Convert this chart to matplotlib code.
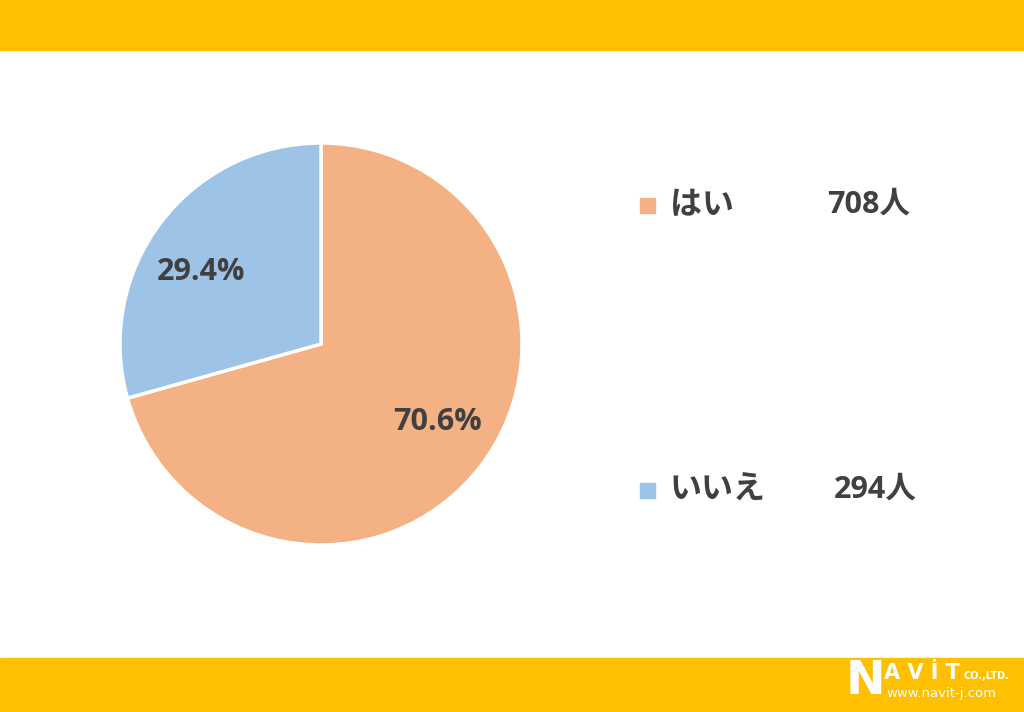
import matplotlib
matplotlib.use("Agg")
import matplotlib.pyplot as plt
from matplotlib.patches import Rectangle

plt.rcParams['font.family'] = ['Open Sans', 'Noto Sans CJK JP', 'DejaVu Sans']

# data
labels      = ["はい", "いいえ"]
counts      = [708, 294]
pct_labels  = ["70.6%", "29.4%"]
colors      = ["#F4B183", "#9DC3E6"]

W, H = 1024, 712
fig = plt.figure(figsize=(W / 100, H / 100), dpi=100)
fig.patch.set_facecolor("white")

# yellow bands top / bottom
yellow = "#FFC000"
fig.add_artist(Rectangle((0, 1 - 50 / H), 1, 50 / H, transform=fig.transFigure, color=yellow, zorder=0))
fig.add_artist(Rectangle((0, 0), 1, 54 / H, transform=fig.transFigure, color=yellow, zorder=0))

# pie
cx, cy, r = 321, 344, 201
ax = fig.add_axes([(cx - r) / W, (H - cy - r) / H, 2 * r / W, 2 * r / H])
wedges, _ = ax.pie(
    counts
    , colors        = colors
    , startangle    = 90
    , counterclock  = False
    , radius        = 1
    , wedgeprops    = dict(edgecolor="white", linewidth=2.5)
)
ax.set_xlim(-1, 1)
ax.set_ylim(-1, 1)
ax.set_aspect("auto")
ax.axis("off")

text_col = "#404040"

# percentage labels
pct_pos = [(437, 422), (201, 272)]
for txt, (px, py) in zip(pct_labels, pct_pos):
    fig.text(px / W, 1 - py / H, txt, ha="center", va="center",
             fontsize=22, fontweight="bold", color=text_col)

# legend
leg_y   = [205, 490]
num_x   = [910, 917]
for lab, n, c, y, nx in zip(labels, counts, colors, leg_y, num_x):
    fig.add_artist(Rectangle((640 / W, 1 - (y + 8) / H), 15 / W, 15 / H,
                             transform=fig.transFigure, color=c))
    fig.text(670 / W, 1 - y / H, lab, ha="left", va="center",
             fontsize=23, fontweight="bold", color=text_col,
             family=["Noto Sans CJK JP"])
    fig.text(nx / W, 1 - y / H, f"{n}人", ha="right", va="center",
             fontsize=22, fontweight="bold", color=text_col)

# logo
fig.text(846 / W, 1 - 682 / H, "N", ha="left", va="center",
         fontsize=34, fontweight="heavy", color="white", family="DejaVu Sans")
fig.text(884 / W, 1 - 673 / H, "A V İ T", ha="left", va="center",
         fontsize=15, fontweight="heavy", color="white", family="DejaVu Sans")
fig.text(963 / W, 1 - 676 / H, "CO.,LTD.", ha="left", va="center",
         fontsize=7, fontweight="bold", color="white", family="DejaVu Sans")
fig.text(886 / W, 1 - 694 / H, "www.navit-j.com", ha="left", va="center",
         fontsize=9.5, color="white", family="DejaVu Sans")

fig.savefig("out.png", dpi=100)
